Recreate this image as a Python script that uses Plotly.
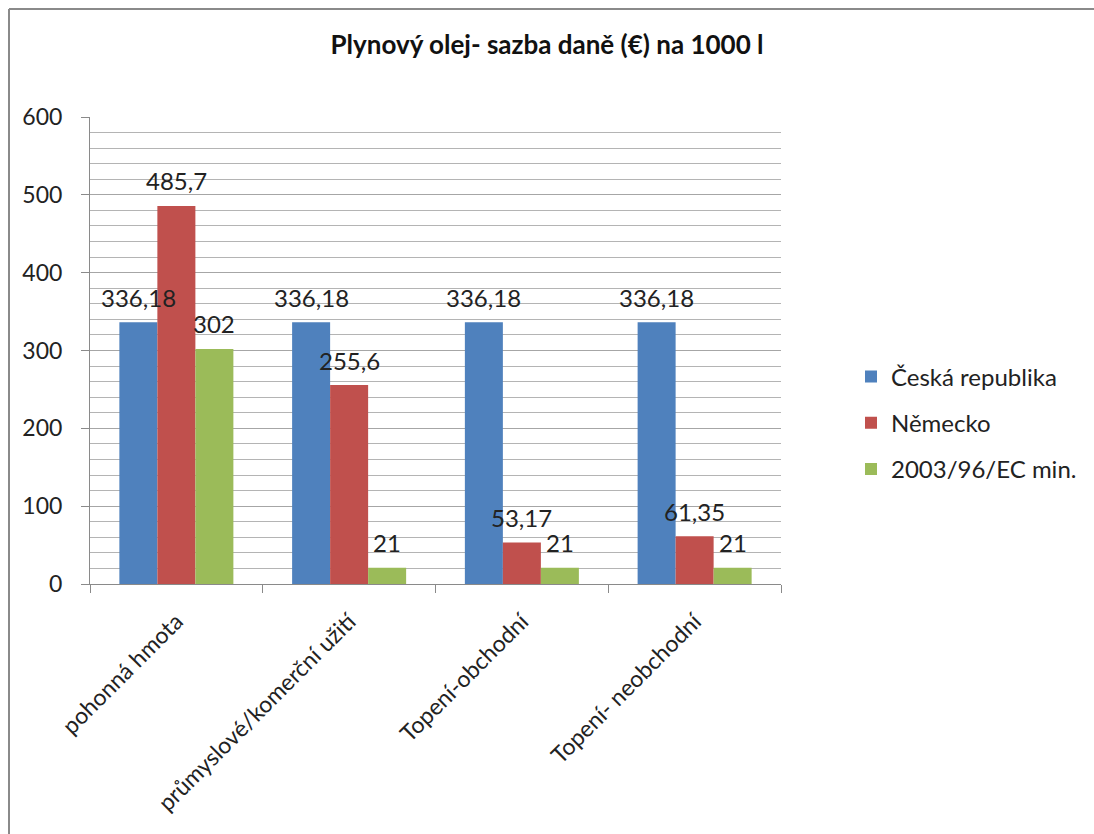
import plotly.graph_objects as go

categories = ["pohonná hmota", "průmyslové/komerční užití", "Topení-obchodní", "Topení- neobchodní"]
ceska_republika = [336.18, 336.18, 336.18, 336.18]
nemecko = [485.7, 255.6, 53.17, 61.35]
smernice_min = [302, 21, 21, 21]

series = [
    ("Česká republika", ceska_republika, "#4F81BD"),
    ("Německo", nemecko, "#C0504D"),
    ("2003/96/EC min.", smernice_min, "#9BBB59"),
]

W, H = 1094, 834
ML, MR, MT, MB = 90, 313, 117, 250
FONT = "Lato, Open Sans, sans-serif"
BARGAP = 0.34

def fmt(v):
    return f"{v:g}".replace(".", ",")

fig = go.Figure()
for i, (name, vals, color) in enumerate(series):
    fig.add_trace(go.Bar(
        x=categories, y=vals, name=name,
        marker=dict(color=color, line=dict(width=0)),
        legendgroup=f"g{i}",
    ))

# value labels above each bar, shifted sideways to sit over their own bar
plot_w = W - ML - MR
plot_h = H - MT - MB
bar_px = plot_w / len(categories) * (1 - BARGAP) / len(series)
for i, (name, vals, color) in enumerate(series):
    for cat, v in zip(categories, vals):
        fig.add_annotation(
            x=cat, y=v, xref="x", yref="y", text=fmt(v), showarrow=False,
            xanchor="center", yanchor="middle",
            xshift=(i - (len(series) - 1) / 2) * bar_px, yshift=25,
            font=dict(size=24, family=FONT, color="#222"),
        )

# frame around the chart area (left and top edges visible)
fx0 = (9 - ML) / plot_w
fy1 = 1 + (MT - 9) / plot_h
fig.add_shape(type="line", xref="paper", yref="paper",
              x0=fx0, x1=fx0, y0=-2, y1=fy1, line=dict(color="#8a8a8a", width=2))
fig.add_shape(type="line", xref="paper", yref="paper",
              x0=fx0, x1=3, y0=fy1, y1=fy1, line=dict(color="#8a8a8a", width=2))

fig.update_layout(
    width=W, height=H,
    margin=dict(l=ML, r=MR, t=MT, b=MB, autoexpand=False),
    paper_bgcolor="white", plot_bgcolor="white",
    font=dict(family=FONT, size=22, color="#222"),
    title=dict(text="<b>Plynový olej- sazba daně (€) na 1000 l</b>",
               x=0.5, xref="container", xanchor="center",
               y=1 - 45 / H, yref="container", yanchor="middle",
               font=dict(size=26, family=FONT, color="#111")),
    barmode="group", bargap=BARGAP, bargroupgap=0,
    showlegend=True,
    legend=dict(x=1 + (851 - (W - MR)) / plot_w, xanchor="left",
                y=1 - (423 - MT) / plot_h, yanchor="middle",
                font=dict(size=24, family=FONT, color="#222"),
                traceorder="grouped", tracegroupgap=12,
                itemwidth=30, bgcolor="rgba(0,0,0,0)"),
    xaxis=dict(
        type="category", tickangle=-45, tickson="boundaries",
        ticks="outside", ticklen=8, tickcolor="#8a8a8a",
        showline=True, linecolor="#8a8a8a", linewidth=1,
        showgrid=False, ticklabelstandoff=14,
        tickfont=dict(size=23, family=FONT, color="#222"),
    ),
    yaxis=dict(
        range=[0, 600], dtick=100, tick0=0,
        ticks="outside", ticklen=8, tickcolor="#8a8a8a",
        showline=True, linecolor="#8a8a8a", linewidth=1,
        showgrid=True, gridcolor="#a6a6a6", gridwidth=1,
        minor=dict(dtick=20, showgrid=True, gridcolor="#b4b4b4", gridwidth=1, ticks=""),
        zeroline=False, ticklabelstandoff=14,
        tickfont=dict(size=23, family=FONT, color="#222"),
    ),
)

fig.write_html("out.html")
